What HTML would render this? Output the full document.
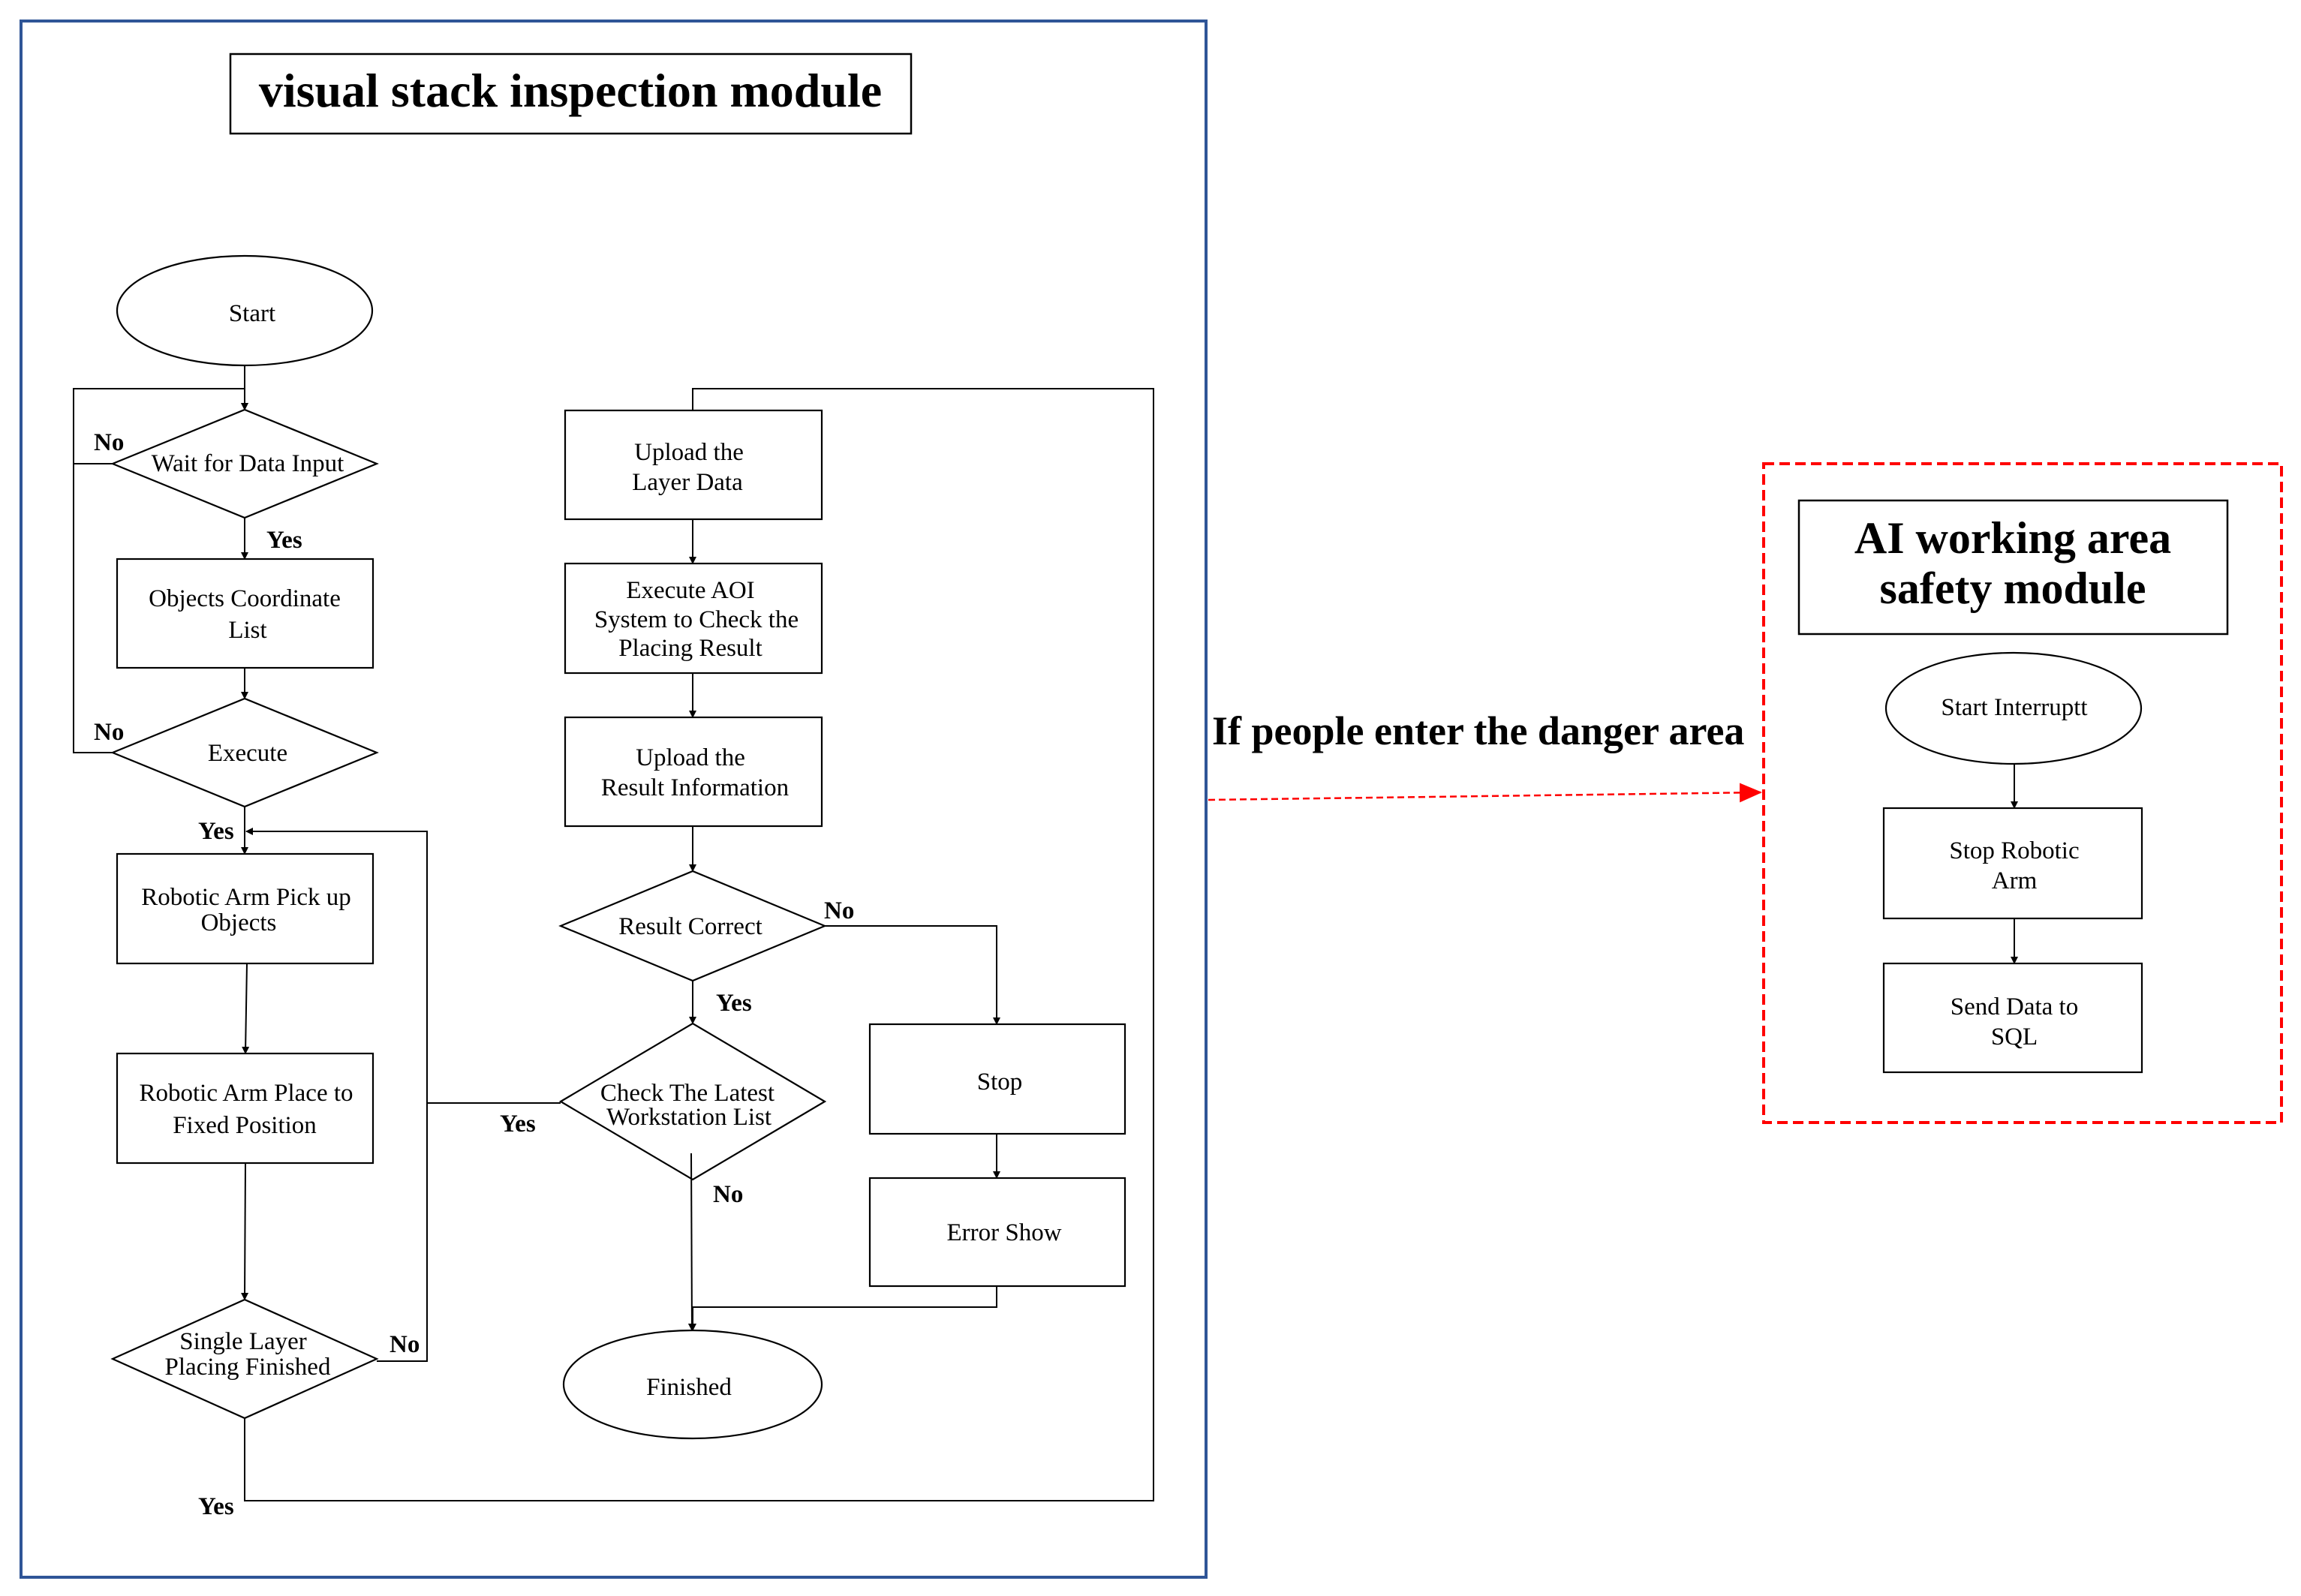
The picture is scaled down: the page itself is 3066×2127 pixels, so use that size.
<!DOCTYPE html>
<html><head><meta charset="utf-8"><style>
html,body{margin:0;padding:0;background:#fff;}
svg{display:block;}
text{font-family:"Liberation Serif",serif;fill:#000;}
.n{font-size:33px;text-anchor:middle;}
.l{font-size:33px;font-weight:bold;}
</style></head><body>
<svg width="3066" height="2127" viewBox="0 0 3066 2127" xmlns="http://www.w3.org/2000/svg">
<defs>
<marker id="a" markerWidth="10" markerHeight="10" refX="9" refY="5" orient="auto" markerUnits="userSpaceOnUse"><path d="M0,0 L10,5 L0,10 z" fill="#000"/></marker>
<marker id="r" markerWidth="30" markerHeight="30" refX="28" refY="15" orient="auto" markerUnits="userSpaceOnUse"><path d="M0,2 L30,15 L0,28 z" fill="#f00"/></marker>
</defs>
<rect x="28" y="28" width="1579" height="2074" fill="none" stroke="#2f5597" stroke-width="4"/>
<rect x="307" y="72" width="907" height="106" fill="none" stroke="#000" stroke-width="2.5"/>
<text x="760" y="142" font-size="64" font-weight="bold" text-anchor="middle">visual stack inspection module</text>

<g fill="none" stroke="#000" stroke-width="2.2">
<ellipse cx="326" cy="414" rx="170" ry="73"/>
<polygon points="150,618 326,546 502,618 326,690"/>
<rect x="156" y="745" width="341" height="145"/>
<polygon points="150,1003 326,931 502,1003 326,1075"/>
<rect x="156" y="1138" width="341" height="146"/>
<rect x="156" y="1404" width="341" height="146"/>
<polygon points="150,1811 326,1732 502,1811 326,1890"/>
<rect x="753" y="547" width="342" height="145"/>
<rect x="753" y="751" width="342" height="146"/>
<rect x="753" y="956" width="342" height="145"/>
<polygon points="747,1234 923,1161 1099,1234 923,1307"/>
<polygon points="747,1468 923,1364 1099,1468 923,1572"/>
<ellipse cx="923" cy="1845" rx="172" ry="72"/>
<rect x="1159" y="1365" width="340" height="146"/>
<rect x="1159" y="1570" width="340" height="144"/>
</g>
<g fill="none" stroke="#000" stroke-width="2" marker-end="url(#a)">
<path d="M326,487 V546"/>
<path d="M150,618 H98 V518 H326 V546"/>
<path d="M326,690 V745"/>
<path d="M326,890 V931"/>
<path d="M326,1075 V1138"/>
<path d="M329,1284 L327,1404"/>
<path d="M327,1550 L326,1732"/>
<path d="M502,1814 H569 V1108 H328"/>
<path d="M923,692 V751"/>
<path d="M923,897 V956"/>
<path d="M923,1101 V1161"/>
<path d="M923,1307 V1364"/>
<path d="M1099,1234 H1328 V1365"/>
<path d="M1328,1511 V1570"/>
<path d="M1328,1714 V1742 H923 V1773"/>
<path d="M921,1537 L922,1773"/>
</g>
<g fill="none" stroke="#000" stroke-width="2">
<path d="M150,1003 H98 V618"/>
<path d="M747,1470 H569"/>
<path d="M923,547 V518 H1537 V2000 H326 V1890"/>
</g>

<text class="n" x="336" y="428">Start</text>
<text class="n" x="330" y="628">Wait for Data Input</text>
<text class="n" x="326" y="808">Objects Coordinate</text>
<text class="n" x="330" y="850">List</text>
<text class="n" x="330" y="1014">Execute</text>
<text class="n" x="328" y="1206">Robotic Arm Pick up</text>
<text class="n" x="318" y="1240">Objects</text>
<text class="n" x="328" y="1467">Robotic Arm Place to</text>
<text class="n" x="326" y="1510">Fixed Position</text>
<text class="n" x="324" y="1798">Single Layer</text>
<text class="n" x="330" y="1832">Placing Finished</text>
<text class="n" x="918" y="613">Upload the</text>
<text class="n" x="916" y="653">Layer Data</text>
<text class="n" x="920" y="797">Execute AOI</text>
<text class="n" x="928" y="836">System to Check the</text>
<text class="n" x="920" y="874">Placing Result</text>
<text class="n" x="920" y="1020">Upload the</text>
<text class="n" x="926" y="1060">Result Information</text>
<text class="n" x="920" y="1245">Result Correct</text>
<text class="n" x="916" y="1467">Check The Latest</text>
<text class="n" x="918" y="1499">Workstation List</text>
<text class="n" x="918" y="1859">Finished</text>
<text class="n" x="1332" y="1452">Stop</text>
<text class="n" x="1338" y="1653">Error Show</text>

<text class="l" x="125" y="600">No</text>
<text class="l" x="355" y="730">Yes</text>
<text class="l" x="125" y="986">No</text>
<text class="l" x="264" y="1118">Yes</text>
<text class="l" x="1098" y="1224">No</text>
<text class="l" x="954" y="1347">Yes</text>
<text class="l" x="666" y="1508">Yes</text>
<text class="l" x="950" y="1602">No</text>
<text class="l" x="519" y="1802">No</text>
<text class="l" x="264" y="2018">Yes</text>

<rect x="2350" y="618" width="690" height="878" fill="none" stroke="#f00" stroke-width="4" stroke-dasharray="14,7"/>
<path d="M1610,1066 L2346,1056" stroke="#f00" stroke-width="2.5" stroke-dasharray="9,5" fill="none" marker-end="url(#r)"/>
<text x="1615" y="992" font-size="54" font-weight="bold">If people enter the danger area</text>
<rect x="2397" y="667" width="571" height="178" fill="none" stroke="#000" stroke-width="2.5"/>
<text x="2682" y="737" font-size="60" font-weight="bold" text-anchor="middle">AI working area</text>
<text x="2682" y="804" font-size="60" font-weight="bold" text-anchor="middle">safety module</text>
<g fill="none" stroke="#000" stroke-width="2.2">
<ellipse cx="2683" cy="944" rx="170" ry="74"/>
<rect x="2510" y="1077" width="344" height="147"/>
<rect x="2510" y="1284" width="344" height="145"/>
</g>
<g stroke="#000" stroke-width="2" marker-end="url(#a)">
<path d="M2684,1018 V1077"/>
<path d="M2684,1224 V1284"/>
</g>
<text class="n" x="2684" y="953">Start Interruptt</text>
<text class="n" x="2684" y="1144">Stop Robotic</text>
<text class="n" x="2684" y="1184">Arm</text>
<text class="n" x="2684" y="1352">Send Data to</text>
<text class="n" x="2684" y="1392">SQL</text>
</svg>
</body></html>
